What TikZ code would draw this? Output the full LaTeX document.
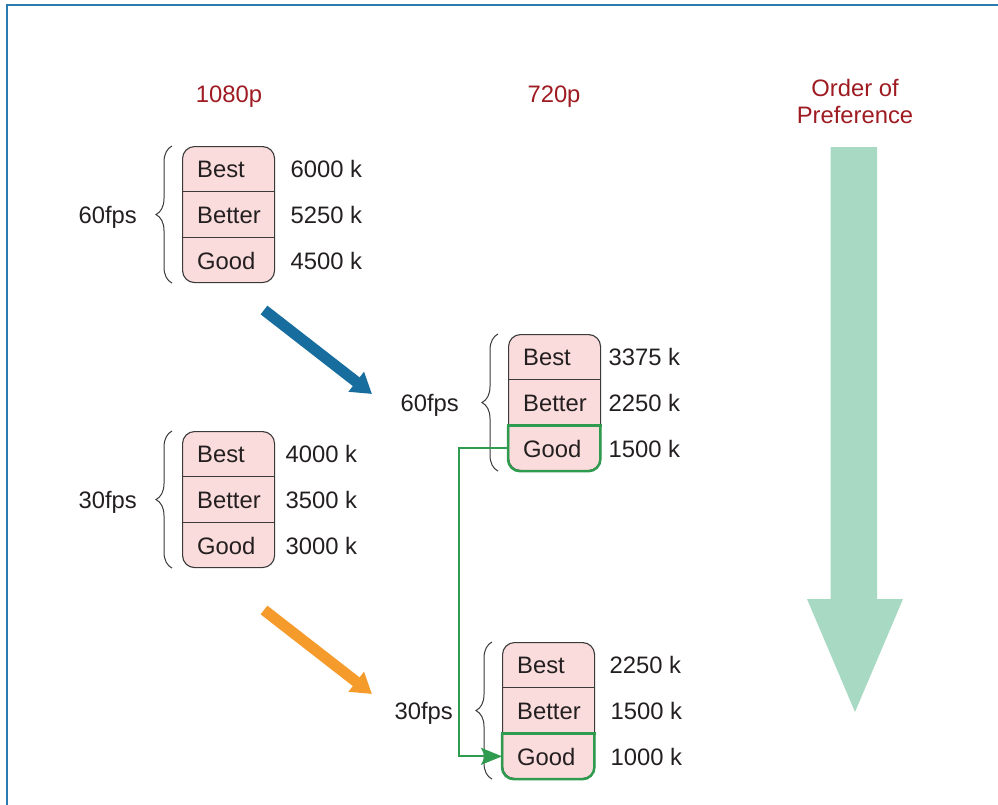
\documentclass[tikz,border=0pt]{standalone}
\usepackage{fontspec}
\setmainfont{Liberation Sans}
\usetikzlibrary{decorations.pathreplacing,arrows.meta}
\definecolor{framecol}{HTML}{2B7BB0}
\definecolor{boxfill}{HTML}{FBDCDC}
\definecolor{boxline}{HTML}{3A3A3A}
\definecolor{txt}{HTML}{231F20}
\definecolor{headred}{HTML}{9E1B22}
\definecolor{hlgreen}{HTML}{2E9B4E}
\definecolor{bigarrow}{HTML}{A8D9C2}
\definecolor{bluearr}{HTML}{176E9E}
\definecolor{orangearr}{HTML}{F59B2B}
\newcommand\rateblock[3]{%
  \node[blockbox, anchor=north west] (#1) at (#2,#3) {};
  \node[rowbox, anchor=north west] (#1best) at (#2,#3) {\hspace*{15pt}Best};
  \node[rowbox, anchor=north] (#1better) at (#1best.south) {\hspace*{15pt}Better};
  \node[rowbox, anchor=north] (#1good) at (#1better.south) {\hspace*{15pt}Good};
  \draw[divider] (#1best.south west) -- (#1best.south east);
  \draw[divider] (#1better.south west) -- (#1better.south east);
  \draw[bracestyle] ([xshift=-10]#1.south west) -- ([xshift=-10]#1.north west);
}
\begin{document}
\begin{tikzpicture}[x=1pt,y=-1pt,
  every node/.style={font=\fontsize{23.8}{27}\selectfont, text=txt},
  blockbox/.style={draw=boxline, line width=1.1, fill=boxfill, rounded corners=12,
    minimum width=92, minimum height=136, inner sep=0},
  rowbox/.style={minimum width=92, minimum height=45.33, text width=92, inner sep=0, align=left,
    text height=17.5, text depth=0},
  divider/.style={draw=boxline, line width=1.1},
  bracestyle/.style={draw=boxline, line width=1.0, decorate, decoration={brace, amplitude=16}},
  valtext/.style={anchor=west, inner sep=0, text height=17.5, text depth=0},
  fpstext/.style={anchor=east, inner sep=0, text height=17.5, text depth=0},
  headtext/.style={text=headred, inner sep=0, align=center},
  hl/.style={draw=hlgreen, line width=2.5},
  conn/.style={draw=hlgreen, line width=1.8, -{Stealth[length=21, width=17, inset=4]}},
  fatarrow/.style={line width=11, -{Triangle[length=20, width=24]}},
]
\useasboundingbox (0,0) rectangle (998,804);
\draw[framecol, line width=2] (7,806) -- (7,5) -- (1000,5);

% headers
\node[headtext] (h1080) at (229,97) {1080p};
\node[headtext] (h720) at (554,97) {720p};
\node[headtext] (hpref) at (855,101) {Order of\\Preference};

% blocks
\rateblock{ba}{182}{146}
\rateblock{bb}{182}{431}
\rateblock{bc}{508}{334}
\rateblock{bd}{502}{642}

% values
\node[valtext, xshift=16] (va1) at (babest.east) {6000 k};
\node[valtext, xshift=16] (va2) at (babetter.east) {5250 k};
\node[valtext, xshift=16] (va3) at (bagood.east) {4500 k};
\node[valtext, xshift=11] (vb1) at (bbbest.east) {4000 k};
\node[valtext, xshift=11] (vb2) at (bbbetter.east) {3500 k};
\node[valtext, xshift=11] (vb3) at (bbgood.east) {3000 k};
\node[valtext, xshift=8] (vc1) at (bcbest.east) {3375 k};
\node[valtext, xshift=8] (vc2) at (bcbetter.east) {2250 k};
\node[valtext, xshift=8] (vc3) at (bcgood.east) {1500 k};
\node[valtext, xshift=15] (vd1) at (bdbest.east) {2250 k};
\node[valtext, xshift=16] (vd2) at (bdbetter.east) {1500 k};
\node[valtext, xshift=16] (vd3) at (bdgood.east) {1000 k};

% fps labels
\node[fpstext, xshift=-45] (fa) at (ba.west) {60fps};
\node[fpstext, xshift=-45] (fb) at (bb.west) {30fps};
\node[fpstext, xshift=-49] (fc) at (bc.west) {60fps};
\node[fpstext, xshift=-49] (fd) at (bd.west) {30fps};

% highlights
\draw[hl, rounded corners=12] (bcgood.north west) -- (bcgood.south west) -- (bcgood.south east) -- (bcgood.north east);
\draw[hl, line cap=rect] (bcgood.north west) -- (bcgood.north east);
\draw[hl, rounded corners=12] (bdgood.north west) -- (bdgood.south west) -- (bdgood.south east) -- (bdgood.north east);
\draw[hl, line cap=rect] (bdgood.north west) -- (bdgood.north east);

% green connector
\coordinate (turn) at (459,0);
\draw[conn] (bcgood.west) -- (bcgood.west -| turn) |- (bdgood.west);

% diagonal arrows
\coordinate (blueS) at (264,310);
\coordinate (blueE) at (372,394);
\draw[fatarrow, bluearr] (blueS) -- (blueE);
\coordinate (orS) at (264,610);
\coordinate (orE) at (372,694);
\draw[fatarrow, orangearr] (orS) -- (orE);

% big preference arrow
\fill[bigarrow] (830.5,147) -- (877,147) -- (877,599) -- (903,599) -- (855,712)
  -- (807,599) -- (830.5,599) -- cycle;
\end{tikzpicture}
\end{document}
